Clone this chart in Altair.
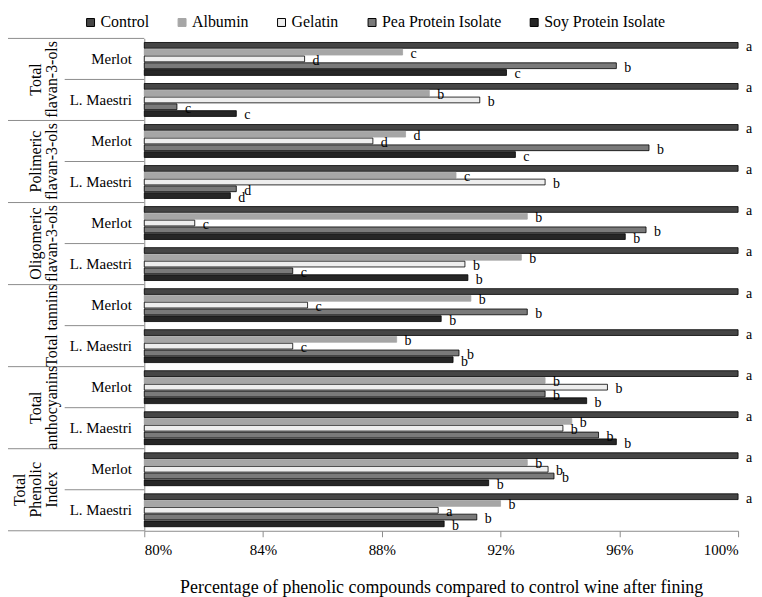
import altair as alt
import pandas as pd

compounds = ["Total flavan-3-ols", "Polimeric flavan-3-ols", "Oligomeric flavan-3-ols",
             "Total tannins", "Total anthocyanins", "Total Phenolic Index"]
compound_labels = ["Total\nflavan-3-ols", "Polimeric\nflavan-3-ols", "Oligomeric\nflavan-3-ols",
                   "Total tannins", "Total\nanthocyanins", "Total\nPhenolic\nIndex"]
wines = ["Merlot", "L. Maestri"]
treatments = ["Control", "Albumin", "Gelatin", "Pea Protein Isolate", "Soy Protein Isolate"]

# order: TF-M, TF-LM, PF-M, PF-LM, OF-M, OF-LM, TT-M, TT-LM, TA-M, TA-LM, TPI-M, TPI-LM
control = [100, 100, 100, 100, 100, 100, 100, 100, 100, 100, 100, 100]
albumin = [88.7, 89.6, 88.8, 90.5, 92.9, 92.7, 91.0, 88.5, 93.5, 94.4, 92.9, 92.0]
gelatin = [85.4, 91.3, 87.7, 93.5, 81.7, 90.8, 85.5, 85.0, 95.6, 94.1, 93.6, 89.9]
pea = [95.9, 81.1, 97.0, 83.1, 96.9, 85.0, 92.9, 90.6, 93.5, 95.3, 93.8, 91.2]
soy = [92.2, 83.1, 92.5, 82.9, 96.2, 90.9, 90.0, 90.4, 94.9, 95.9, 91.6, 90.1]

control_letters = ["a", "a", "a", "a", "a", "a", "a", "a", "a", "a", "a", "a"]
albumin_letters = ["c", "b", "d", "c", "b", "b", "b", "b", "b", "b", "b", "b"]
gelatin_letters = ["d", "b", "d", "b", "c", "b", "c", "c", "b", "b", "b", "a"]
pea_letters = ["b", "c", "b", "d", "b", "c", "b", "b", "b", "b", "b", "b"]
soy_letters = ["c", "c", "c", "d", "b", "b", "b", "b", "b", "b", "b", "b"]

fills = ["#454545", "#a6a6a6", "#eeeeee", "#7a7a7a", "#262626"]
strokes = ["#000000", "#a6a6a6", "#000000", "#000000", "#000000"]

rows_order = [f"{c}|{w}" for c in compounds for w in wines]
series = {
    "Control": (control, control_letters),
    "Albumin": (albumin, albumin_letters),
    "Gelatin": (gelatin, gelatin_letters),
    "Pea Protein Isolate": (pea, pea_letters),
    "Soy Protein Isolate": (soy, soy_letters),
}
recs = []
for t in treatments:
    vals, lets = series[t]
    for i, r in enumerate(rows_order):
        recs.append({"row": r, "treatment": t, "value": vals[i], "letter": lets[i]})
df = pd.DataFrame(recs)

sep = pd.DataFrame({"row": rows_order, "wine": [r.split("|")[1] for r in rows_order]})

# compound label lines, indexed from the last line backwards
lab_recs = []
for c, lbl in zip(compounds, compound_labels):
    parts = lbl.split("\n")
    for k, p in enumerate(reversed(parts)):
        lab_recs.append({"row": f"{c}|Merlot", "text": p, "back": k})
lab = pd.DataFrame(lab_recs)

SERIF = "Liberation Serif, Times New Roman, Tinos, DejaVu Serif, serif"
W, H = 597, 495

yscale = alt.Scale(domain=rows_order, paddingInner=0, paddingOuter=0)
yaxis = alt.Axis(title=None, labelExpr="split(datum.label, '|')[1]", ticks=False,
                 domainColor="#8c8c8c", labelFont=SERIF, labelFontSize=15, labelColor="black",
                 labelPadding=13, labelLimit=300, grid=False)
xscale = alt.Scale(domain=[80, 100], zero=False, nice=False)
xaxis = alt.Axis(values=[80, 84, 88, 92, 96, 100], labelExpr="datum.value + '%'",
                 title="Percentage of phenolic compounds compared to control wine after fining",
                 titleFont=SERIF, titleFontSize=18, titleFontWeight="normal", titleColor="black",
                 titlePadding=21, labelFont=SERIF, labelFontSize=15, labelColor="black",
                 labelPadding=6, tickSize=6, tickColor="#8c8c8c", domainColor="#8c8c8c", grid=False)
yoff = alt.YOffset("treatment:N", sort=treatments,
                   scale=alt.Scale(domain=treatments, paddingInner=0.15, paddingOuter=0.6))

legend = alt.Legend(title=None, orient="none", legendX=-62, legendY=-24, direction="horizontal",
                    symbolType="square", symbolSize=64, symbolStrokeWidth=1,
                    labelFont=SERIF, labelFontSize=16, labelColor="black", labelOffset=2,
                    columnPadding=25, padding=0)

bars = alt.Chart(df).mark_bar(strokeWidth=0.8).encode(
    y=alt.Y("row:N", scale=yscale, axis=yaxis),
    yOffset=yoff,
    x=alt.X("value:Q", scale=xscale, axis=xaxis),
    x2=alt.datum(80),
    fill=alt.Fill("treatment:N", sort=treatments,
                  scale=alt.Scale(domain=treatments, range=fills), legend=legend),
    stroke=alt.Stroke("treatment:N", sort=treatments,
                      scale=alt.Scale(domain=treatments, range=strokes), legend=legend),
)

letters = alt.Chart(df).mark_text(align="left", baseline="middle", dx=8, dy=2,
                                  font=SERIF, fontSize=14, color="black").encode(
    y=alt.Y("row:N", scale=yscale, axis=yaxis),
    yOffset=yoff,
    x=alt.X("value:Q", scale=xscale, axis=xaxis),
    text="letter:N",
)

sep_wine = alt.Chart(sep).transform_filter("datum.wine == 'L. Maestri'").mark_rule(
    color="#8c8c8c", strokeWidth=1).encode(
    y=alt.Y("row:N", bandPosition=0, scale=yscale, axis=yaxis),
    x=alt.value(-80), x2=alt.value(0),
)
sep_comp = alt.Chart(sep).transform_filter("datum.wine == 'Merlot'").mark_rule(
    color="#8c8c8c", strokeWidth=1).encode(
    y=alt.Y("row:N", bandPosition=0, scale=yscale, axis=yaxis),
    x=alt.value(-137), x2=alt.value(0),
)
bottom = alt.Chart(sep).transform_filter("datum.row == 'Total tannins|Merlot'").mark_rule(
    color="#8c8c8c", strokeWidth=1).encode(
    y=alt.value(H), x=alt.value(-137), x2=alt.value(0),
)

line_x = {0: -93, 1: -109, 2: -125}
comp_layers = []
for k, xv in line_x.items():
    comp_layers.append(
        alt.Chart(lab).transform_filter(f"datum.back == {k}").mark_text(
            angle=270, font=SERIF, fontSize=16, align="center", baseline="middle",
            color="black").encode(
            y=alt.Y("row:N", bandPosition=1, scale=yscale, axis=yaxis),
            x=alt.value(xv),
            text="text:N",
        )
    )

chart = alt.layer(bars, letters, sep_wine, sep_comp, bottom, *comp_layers).properties(
    width=W, height=H, autosize="none",
    padding={"left": 137, "top": 29, "right": 16, "bottom": 65},
).configure_view(stroke=None)

chart.save("out.html", embed_options={"renderer": "svg", "actions": False})
